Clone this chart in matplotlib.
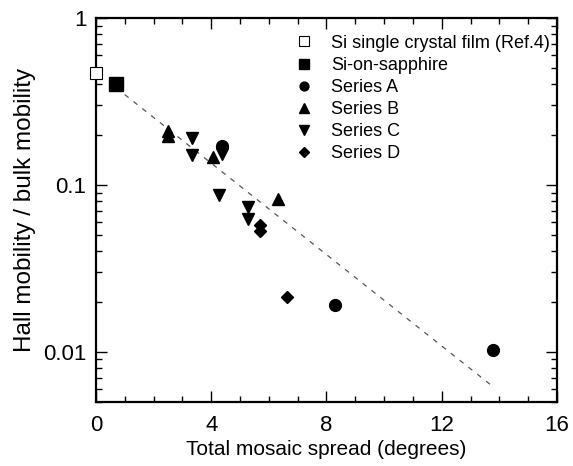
import numpy as np
import matplotlib
matplotlib.use("Agg")
import matplotlib.pyplot as plt
from matplotlib.ticker import FixedLocator, LogLocator, NullFormatter

plt.rcParams['font.family'] = ['Liberation Sans', 'DejaVu Sans']

# data
ref_x = [0.0]
ref_y = [0.47]

sos_x = [0.69]
sos_y = [0.403]

a_x = [4.36, 8.30, 13.77]
a_y = [0.171, 0.0191, 0.0103]

b_x = [2.49, 2.49, 4.06, 6.33]
b_y = [0.210, 0.196, 0.147, 0.0826]

c_x = [3.32, 3.32, 4.36, 4.28, 5.29, 5.29]
c_y = [0.190, 0.151, 0.153, 0.0864, 0.0737, 0.0622]

d_x = [5.69, 5.69, 6.64]
d_y = [0.0573, 0.0527, 0.0212]

fit_x = [0.69, 13.72]
fit_y = [0.383, 0.0063]

fig = plt.figure(figsize=(5.73, 4.66), dpi=100)
ax = fig.add_axes([0.1675, 0.1373, 0.8045, 0.8241])

ax.plot(fit_x, fit_y, ls=(0, (4, 5)), color='#555555', lw=0.9, zorder=1)

ax.plot(ref_x, ref_y, 's', ms=9, mfc='white', mec='black', mew=0.8,
        clip_on=False, zorder=5, label='Si single crystal film (Ref.4)')
ax.plot(sos_x, sos_y, 's', ms=9.5, color='black', label='Si-on-sapphire')
ax.plot(a_x, a_y, 'o', ms=8.5, color='black', label='Series A')
ax.plot(b_x, b_y, '^', ms=9, color='black', label='Series B')
ax.plot(c_x, c_y, 'v', ms=9, color='black', label='Series C')
ax.plot(d_x, d_y, 'D', ms=6.5, color='black', label='Series D')

ax.set_yscale('log')
ax.set_xlim(0, 16)
ax.set_ylim(0.005, 1)
ax.set_xticks([0, 4, 8, 12, 16])
ax.xaxis.set_minor_locator(FixedLocator(np.arange(0, 17, 1)))
ax.set_yticks([0.01, 0.1, 1])
ax.set_yticklabels(['0.01', '0.1', '1'])
ax.yaxis.set_minor_locator(LogLocator(base=10, subs=np.arange(2, 10)))
ax.yaxis.set_minor_formatter(NullFormatter())

ax.tick_params(which='both', direction='in', top=True, right=True,
               width=1.0, labelsize=16, pad=7)
ax.tick_params(axis='x', which='both', pad=9)
ax.tick_params(which='major', length=8)
ax.tick_params(which='minor', length=4)
for s in ax.spines.values():
    s.set_linewidth(1.6)

ax.set_xlabel('Total mosaic spread (degrees)', fontsize=15, labelpad=3)
ax.set_ylabel('Hall mobility / bulk mobility', fontsize=17.5, labelpad=5)

ax.legend(loc='upper right', frameon=False, fontsize=13, markerscale=0.75,
          handlelength=1.0, handletextpad=0.98, labelspacing=0.28,
          borderaxespad=0.0, bbox_to_anchor=(1.0, 0.975))

fig.savefig('out.png', dpi=100)
